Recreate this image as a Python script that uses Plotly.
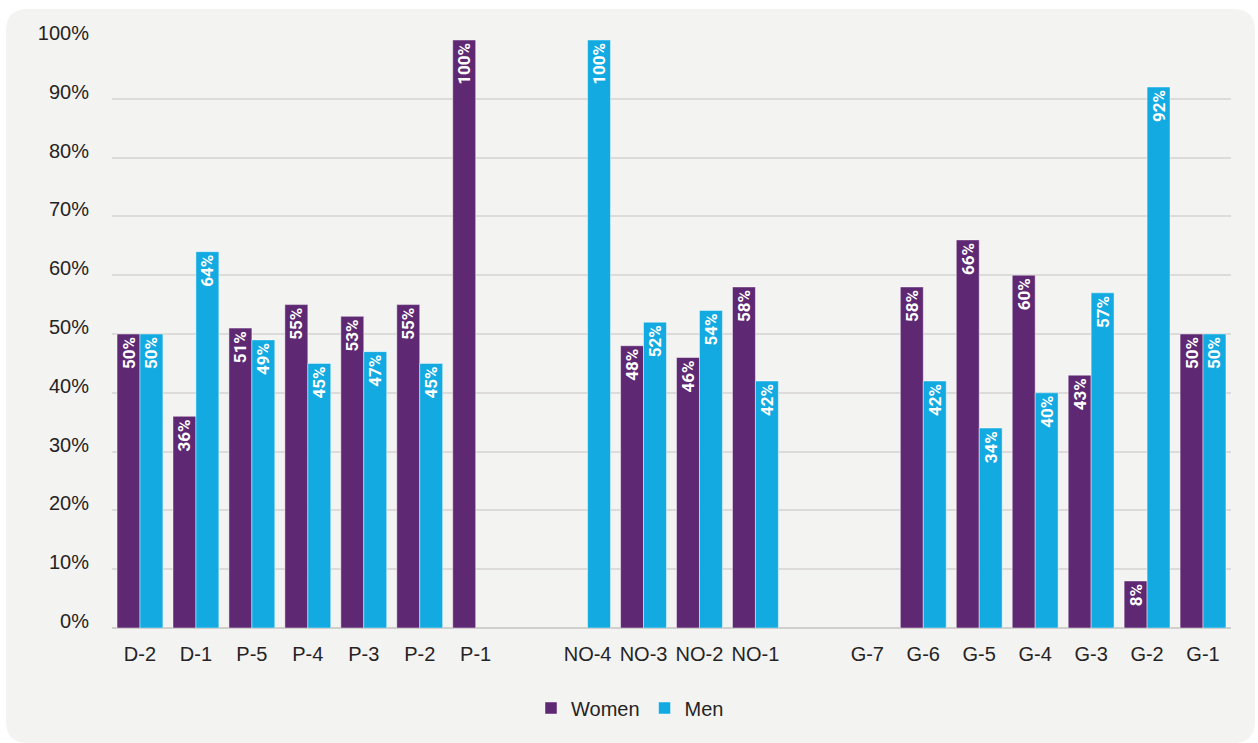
import plotly.graph_objects as go

# Grade levels; the two blank entries are spacer columns between groups
categories = ["D-2", "D-1", "P-5", "P-4", "P-3", "P-2", "P-1", " ",
              "NO-4", "NO-3", "NO-2", "NO-1", "  ",
              "G-7", "G-6", "G-5", "G-4", "G-3", "G-2", "G-1"]

# Share of staff by gender (percent); None = no staff in that grade
women = [50, 36, 51, 55, 53, 55, 100, None,
         None, 48, 46, 58, None,
         None, 58, 66, 60, 43, 8, 50]
men = [50, 64, 49, 45, 47, 45, None, None,
       100, 52, 54, 42, None,
       None, 42, 34, 40, 57, 92, 50]

y_ticks = [0, 10, 20, 30, 40, 50, 60, 70, 80, 90, 100]
y_tick_labels = [f"{v}%" for v in y_ticks]

PURPLE = "#5e2872"
BLUE = "#12aae1"
PANEL = "#f3f3f2"
TEXT = "#262324"

W, H = 1258, 743
M_L, M_R, M_T, M_B = 112, 27, 40, 115


def bar_trace(name, values, color):
    return go.Bar(
        name=name,
        x=categories,
        y=values,
        marker=dict(color=color, line=dict(color="rgba(255,255,255,0.45)", width=1)),
        text=[None if v is None else f"{v:.0f}%" for v in values],
        textposition="inside",
        insidetextanchor="end",
        textangle=-90,
        textfont=dict(family="Roboto", size=17, color="white", weight="bold"),
        constraintext="none",
        cliponaxis=False,
        hovertemplate="%{x}: %{y}%<extra>" + name + "</extra>",
    )


fig = go.Figure([bar_trace("Women", women, PURPLE), bar_trace("Men", men, BLUE)])

# Rounded light-grey panel behind the whole chart, given in paper units
pw, ph = W - M_L - M_R, H - M_T - M_B


def px_x(p):
    return (p - M_L) / pw


def px_y(p):
    return (H - M_B - p) / ph


left, right, top, bottom, r = 6, 1255, 9, 743, 22
rx, ry = r / pw, r / ph
x0, x1, y0, y1 = px_x(left), px_x(right), px_y(bottom), px_y(top)
panel_path = (
    f"M {x0 + rx} {y1} L {x1 - rx} {y1} Q {x1} {y1} {x1} {y1 - ry} "
    f"L {x1} {y0 + ry} Q {x1} {y0} {x1 - rx} {y0} "
    f"L {x0 + rx} {y0} Q {x0} {y0} {x0} {y0 + ry} "
    f"L {x0} {y1 - ry} Q {x0} {y1} {x0 + rx} {y1} Z"
)

fig.update_layout(
    width=W,
    height=H,
    margin=dict(l=M_L, r=M_R, t=M_T, b=M_B),
    paper_bgcolor="white",
    plot_bgcolor="rgba(0,0,0,0)",
    barmode="group",
    bargap=0.18,
    bargroupgap=0,
    font=dict(family="Liberation Sans, Arial, sans-serif", size=20, color=TEXT),
    shapes=[dict(type="path", path=panel_path, xref="paper", yref="paper",
                 fillcolor=PANEL, line=dict(width=0), layer="below")],
    legend=dict(
        orientation="h",
        x=px_x(630),
        xanchor="center",
        y=px_y(708),
        yanchor="middle",
        font=dict(size=20, color=TEXT),
        bgcolor="rgba(0,0,0,0)",
        itemclick=False,
    ),
    showlegend=True,
)

fig.update_xaxes(
    type="category",
    showgrid=False,
    showline=False,
    ticks="",
    ticklabelstandoff=12,
    tickfont=dict(size=20, color=TEXT),
    fixedrange=True,
)

fig.update_yaxes(
    range=[0, 100],
    tickvals=y_ticks,
    ticktext=y_tick_labels,
    showgrid=True,
    gridcolor="#dcdbda",
    gridwidth=1.5,
    zeroline=True,
    zerolinecolor="#d0cfce",
    zerolinewidth=1.5,
    showline=False,
    ticks="",
    ticklabelstandoff=22,
    ticklabelshift=-7,
    tickfont=dict(size=20, color=TEXT),
    fixedrange=True,
)

fig.write_html("out.html")
